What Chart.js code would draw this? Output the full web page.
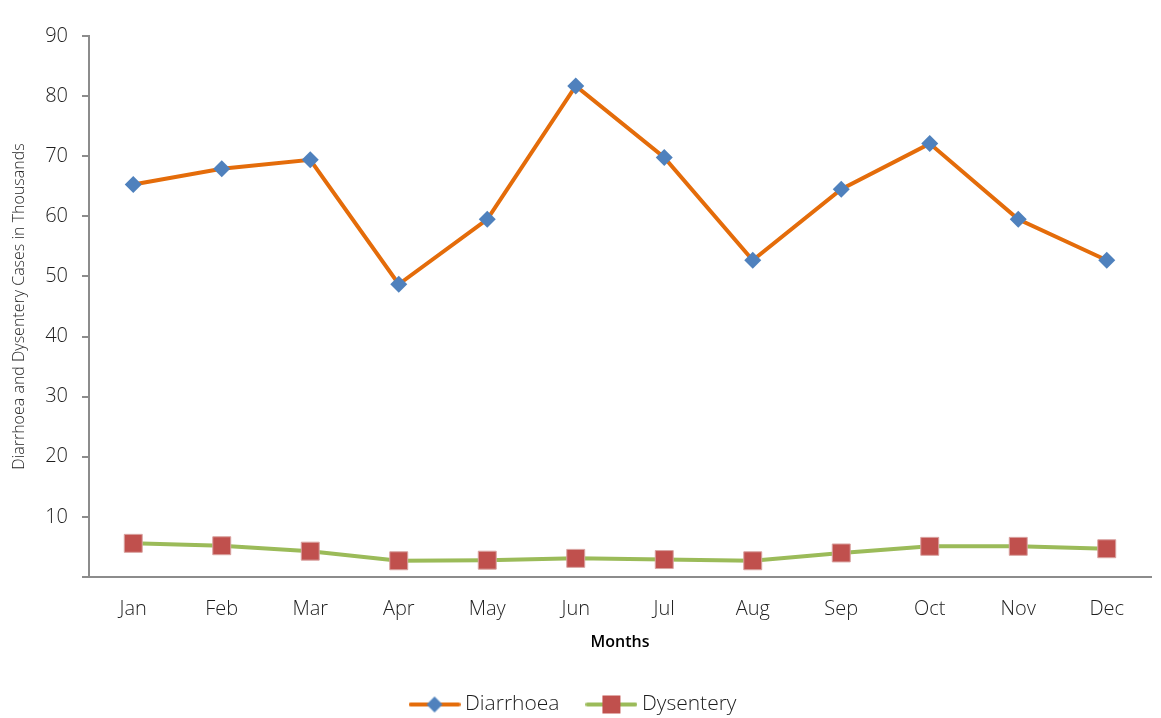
<!DOCTYPE html>
<html>
<head>
<meta charset="utf-8">
<script src="https://cdn.jsdelivr.net/npm/chart.js@4.4.1/dist/chart.umd.min.js"></script>
<style>
    html, body { margin: 0; padding: 0; background: #fff; }
    #wrap { width: 1161px; height: 718px; position: relative; }
</style>
</head>
<body>
<div id="wrap"><canvas id="chart"></canvas></div>
<script>
// Datos (miles de casos)
const months = ['Jan', 'Feb', 'Mar', 'Apr', 'May', 'Jun', 'Jul', 'Aug', 'Sep', 'Oct', 'Nov', 'Dec'];
const diarrhoea = [65.3, 67.9, 69.4, 48.7, 59.5, 81.7, 69.8, 52.7, 64.5, 72.1, 59.5, 52.7];
const dysentery = [5.6, 5.2, 4.3, 2.7, 2.8, 3.1, 2.9, 2.7, 4.0, 5.1, 5.1, 4.7];
const yTicks = [0, 10, 20, 30, 40, 50, 60, 70, 80, 90];

const COLORS = {
    orange: '#E46C0A',
    blue: '#4F81BD',
    green: '#9BBB59',
    red: '#C0504D',
    axis: '#8C8C8C',
    text: '#1E1E1E'
};

const FONT = "'Open Sans', 'Noto Sans', sans-serif";

// iconos de la leyenda: línea + marcador
function makeIcon(lineColor, markerColor, shape) {
    const c = document.createElement('canvas');
    c.width = 52; c.height = 20;
    const g = c.getContext('2d');
    g.strokeStyle = lineColor;
    g.lineWidth = 4;
    g.lineCap = 'round';
    g.beginPath();
    g.moveTo(2, 10);
    g.lineTo(50, 10);
    g.stroke();
    g.fillStyle = markerColor;
    if (shape === 'diamond') {
        g.beginPath();
        g.moveTo(26, 2); g.lineTo(34, 10); g.lineTo(26, 18); g.lineTo(18, 10);
        g.closePath();
        g.fill();
    } else {
        g.fillRect(17, 1, 18, 18);
    }
    return c;
}
const legendIcons = [
    makeIcon(COLORS.orange, COLORS.blue, 'diamond'),
    makeIcon(COLORS.green, COLORS.red, 'square')
];

const ctx = document.getElementById('chart').getContext('2d');
new Chart(ctx, {
    type: 'line',
    data: {
        labels: months,
        datasets: [
            {
                label: 'Diarrhoea',
                data: diarrhoea,
                borderColor: COLORS.orange,
                backgroundColor: COLORS.blue,
                borderWidth: 4,
                tension: 0,
                pointStyle: 'rectRot',
                pointRadius: 8.5,
                pointBackgroundColor: COLORS.blue,
                pointBorderColor: COLORS.blue,
                pointBorderWidth: 0
            },
            {
                label: 'Dysentery',
                data: dysentery,
                borderColor: COLORS.green,
                backgroundColor: COLORS.red,
                borderWidth: 4,
                tension: 0,
                pointStyle: 'rect',
                pointRadius: 12.7,
                pointBackgroundColor: COLORS.red,
                pointBorderColor: '#D9A3A1',
                pointBorderWidth: 1
            }
        ]
    },
    options: {
        responsive: true,
        maintainAspectRatio: false,
        animation: false,
        layout: { autoPadding: false, padding: { top: 36, right: 10, left: 0, bottom: -7 } },
        plugins: {
            tooltip: { enabled: false },
            legend: {
                position: 'bottom',
                labels: {
                    usePointStyle: true,
                    pointStyleWidth: 40,
                    boxHeight: 20,
                    padding: 32,
                    color: COLORS.text,
                    font: { family: FONT, size: 21, weight: 300 },
                    generateLabels(chart) {
                        const items = Chart.defaults.plugins.legend.labels.generateLabels(chart);
                        items.forEach((it, i) => { it.pointStyle = legendIcons[i]; });
                        return items;
                    }
                }
            }
        },
        scales: {
            x: {
                type: 'category',
                offset: true,
                afterFit(scale) { scale.height = 85; },
                grid: { drawOnChartArea: false, drawTicks: false },
                border: { display: true, color: COLORS.axis, width: 2 },
                ticks: { color: COLORS.text, padding: 20, font: { family: FONT, size: 20, weight: 300 } },
                title: {
                    display: true,
                    text: 'Months',
                    color: '#000',
                    padding: { top: 0, bottom: 10 },
                    font: { family: FONT, size: 16, weight: 600 }
                }
            },
            y: {
                min: yTicks[0],
                max: yTicks[yTicks.length - 1],
                afterFit(scale) { scale.width = 89; },
                afterBuildTicks(scale) { scale.ticks = yTicks.map(v => ({ value: v })); },
                grid: { drawOnChartArea: false, drawTicks: true, tickLength: 7, color: COLORS.axis, lineWidth: 2 },
                border: { display: true, color: COLORS.axis, width: 2 },
                ticks: {
                    color: COLORS.text,
                    padding: 14,
                    font: { family: FONT, size: 20, weight: 300 },
                    callback: v => (v === 0 ? '' : v)
                },
                title: {
                    display: true,
                    text: 'Diarrhoea and Dysentery Cases in Thousands',
                    color: COLORS.text,
                    padding: { top: 10, bottom: 0 },
                    font: { family: FONT, size: 16, weight: 300 }
                }
            }
        }
    }
});
</script>
</body>
</html>
